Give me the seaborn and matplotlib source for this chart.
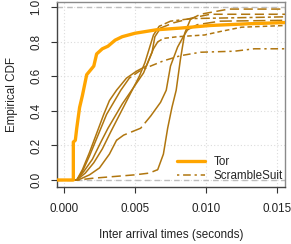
import numpy as np
import pandas as pd
import matplotlib
matplotlib.use("Agg")
import matplotlib.pyplot as plt
import seaborn as sns
from matplotlib.lines import Line2D

# ---- data ----
tor_x = [-0.0005, 0.00066, 0.00066, 0.0008, 0.0009, 0.0011, 0.0013, 0.0016, 0.0021,
         0.0023, 0.0027, 0.0031, 0.0036, 0.0041, 0.0050, 0.0065, 0.0082, 0.0103, 0.0130, 0.0156]
tor_y = [0.0, 0.0, 0.22, 0.23, 0.30, 0.42, 0.49, 0.61, 0.66,
         0.73, 0.76, 0.775, 0.81, 0.83, 0.85, 0.87, 0.88, 0.895, 0.905, 0.912]

ss1_x = [-0.0005, 0.0009, 0.0013, 0.0018, 0.0023, 0.0028, 0.0032, 0.0037, 0.0044, 0.0051,
         0.0058, 0.0062, 0.0064, 0.0068, 0.0077, 0.0091, 0.0103, 0.0156]
ss1_y = [0.0, 0.0, 0.06, 0.16, 0.27, 0.38, 0.46, 0.52, 0.59, 0.63,
         0.66, 0.74, 0.83, 0.88, 0.91, 0.94, 0.96, 0.96]

ss2_x = [-0.0005, 0.0010, 0.0020, 0.0035, 0.0050, 0.0060, 0.0066, 0.0070, 0.0073, 0.0076,
         0.0079, 0.0082, 0.0085, 0.0089, 0.0096, 0.0116, 0.0156]
ss2_y = [0.0, 0.0, 0.01, 0.02, 0.03, 0.04, 0.06, 0.15, 0.30, 0.42,
         0.52, 0.70, 0.85, 0.93, 0.96, 0.99, 0.99]

ss3_x = [-0.0005, 0.0009, 0.0013, 0.0018, 0.0024, 0.0030, 0.0035, 0.0040, 0.0046, 0.0053,
         0.0061, 0.0070, 0.0082, 0.0096, 0.0120, 0.0134, 0.0156]
ss3_y = [0.0, 0.0, 0.05, 0.14, 0.26, 0.38, 0.45, 0.52, 0.59, 0.63,
         0.66, 0.69, 0.72, 0.74, 0.746, 0.76, 0.76]

ss4_x = [-0.0005, 0.0010, 0.0018, 0.0025, 0.0032, 0.0037, 0.0042, 0.0048, 0.0054, 0.0061,
         0.0068, 0.0072, 0.0075, 0.0080, 0.0084, 0.0087, 0.0094, 0.0110, 0.0156]
ss4_y = [0.0, 0.0, 0.03, 0.07, 0.15, 0.23, 0.26, 0.28, 0.30, 0.37,
         0.45, 0.52, 0.66, 0.77, 0.83, 0.87, 0.90, 0.92, 0.925]

ss5_x = [-0.0005, 0.0009, 0.0014, 0.0020, 0.0026, 0.0031, 0.0036, 0.0041, 0.0046, 0.0051,
         0.0056, 0.0060, 0.0063, 0.0066, 0.0070, 0.0080, 0.0099, 0.0110, 0.0125, 0.0156]
ss5_y = [0.0, 0.0, 0.05, 0.12, 0.22, 0.30, 0.37, 0.44, 0.50, 0.56,
         0.62, 0.70, 0.76, 0.80, 0.82, 0.83, 0.84, 0.86, 0.885, 0.895]

ss6_x = [-0.0005, 0.0009, 0.0015, 0.0021, 0.0027, 0.0033, 0.0038, 0.0043, 0.0048, 0.0053,
         0.0057, 0.0060, 0.0063, 0.0067, 0.0075, 0.0090, 0.0156]
ss6_y = [0.0, 0.0, 0.04, 0.10, 0.18, 0.28, 0.36, 0.44, 0.52, 0.60,
         0.68, 0.76, 0.84, 0.89, 0.92, 0.935, 0.945]

# x ranges where each ScrambleSuit curve is dense (drawn solid); rest uses its dash style
ss_solid_lo = [0.0008, 0.0066, 0.0008, 0.0008, 0.0008, 0.0008]
ss_solid_hi = [0.0068, 0.0089, 0.0046, 0.0037, 0.0066, 0.0067]
ss_solid_lo2 = [None, None, None, 0.0061, None, None]
ss_solid_hi2 = [None, None, None, 0.0087, None, None]

x_ticks = [0.000, 0.005, 0.010, 0.015]
x_tick_labels = ["0.000", "0.005", "0.010", "0.015"]
y_ticks = [0.0, 0.2, 0.4, 0.6, 0.8, 1.0]
y_tick_labels = ["0.0", "0.2", "0.4", "0.6", "0.8", "1.0"]

# ---- styling ----
sns.set_style("white")
plt.rcParams['font.family'] = ['Liberation Sans', 'DejaVu Sans']
TOR = "#FFA500"
SS = "#B0760F"
styles = [(0, (6, 3)), (0, (6, 3)), (0, (1.5, 2.5, 5, 2.5)), (0, (8, 3)), (0, (3, 2)), (0, (2, 2, 6, 2))]

fig = plt.figure(figsize=(2.91, 2.44), dpi=100)
ax = fig.add_axes([57 / 291, 1 - 187 / 244, (285 - 57) / 291, (187 - 2) / 244])

ax.set_xlim(-0.00049, 0.01556)
ax.set_ylim(-0.0405, 1.031)

# grid
for xt in x_ticks:
    ax.axvline(xt, color="#dcdcdc", lw=0.8, ls=(0, (1, 2)), zorder=0)
for yt in y_ticks:
    ax.axhline(yt, color="#dcdcdc", lw=0.8, ls=(0, (1, 2)), zorder=0)
for yt in (0.0, 1.0):
    ax.axhline(yt, color="#bdbdbd", lw=1.0, ls=(0, (4, 3)), zorder=1)


def draw(part, ls):
    if len(part) > 1:
        sns.lineplot(data=part, x="x", y="y", sort=False, estimator=None, ax=ax,
                     color=SS, lw=1.1, ls=ls, zorder=3)


ss_curves = [(ss1_x, ss1_y), (ss2_x, ss2_y), (ss3_x, ss3_y),
             (ss4_x, ss4_y), (ss5_x, ss5_y), (ss6_x, ss6_y)]
for i, (xs, ys) in enumerate(ss_curves):
    df = pd.DataFrame({"x": xs, "y": ys}).reset_index(drop=True)
    ranges = [(ss_solid_lo[i], ss_solid_hi[i])]
    if ss_solid_lo2[i] is not None:
        ranges.append((ss_solid_lo2[i], ss_solid_hi2[i]))
    solid = np.zeros(len(df), dtype=bool)
    for lo, hi in ranges:
        solid |= ((df.x >= lo) & (df.x <= hi)).to_numpy()
    # split into consecutive runs; each segment between points k and k+1 is solid
    # if both endpoints are in a solid range
    seg_solid = solid[:-1] & solid[1:]
    start = 0
    for k in range(1, len(seg_solid) + 1):
        if k == len(seg_solid) or seg_solid[k] != seg_solid[start]:
            part = df.iloc[start:k + 1]
            draw(part, "-" if seg_solid[start] else styles[i])
            start = k

tor_df = pd.DataFrame({"x": tor_x, "y": tor_y})
sns.lineplot(data=tor_df, x="x", y="y", sort=False, estimator=None, ax=ax,
             color=TOR, lw=2.4, zorder=4)

ax.set_xticks(x_ticks)
ax.set_xticklabels(x_tick_labels)
ax.set_yticks(y_ticks)
ax.set_yticklabels(y_tick_labels, rotation=90, va="center")
ax.tick_params(axis="both", direction="out", length=4.5, width=0.8, color="#333333",
               labelsize=8.4, pad=6, labelcolor="#222222")
ax.tick_params(axis="x", bottom=True, pad=7)
ax.tick_params(axis="y", left=True)
ax.set_xlabel("Inter arrival times (seconds)", fontsize=8.4, labelpad=10, color="#222222")
ax.set_ylabel("Empirical CDF", fontsize=8.4, labelpad=9, color="#222222")

for side in ("top", "right"):
    ax.spines[side].set_color("#8a8a8a")
    ax.spines[side].set_linewidth(1.0)
for side in ("left", "bottom"):
    ax.spines[side].set_color("#444444")
    ax.spines[side].set_linewidth(1.0)

handles = [Line2D([0], [0], color=TOR, lw=2.4),
           Line2D([0], [0], color=SS, lw=1.1, ls=(0, (1.5, 2.5, 5, 2.5)))]
ax.legend(handles, ["Tor", "ScrambleSuit"], loc="lower right", frameon=False,
          fontsize=8.4, handlelength=2.4, handletextpad=0.7, labelspacing=0.2,
          borderaxespad=0.0, bbox_to_anchor=(1.01, 0.0))

fig.savefig("out.png", dpi=100)
